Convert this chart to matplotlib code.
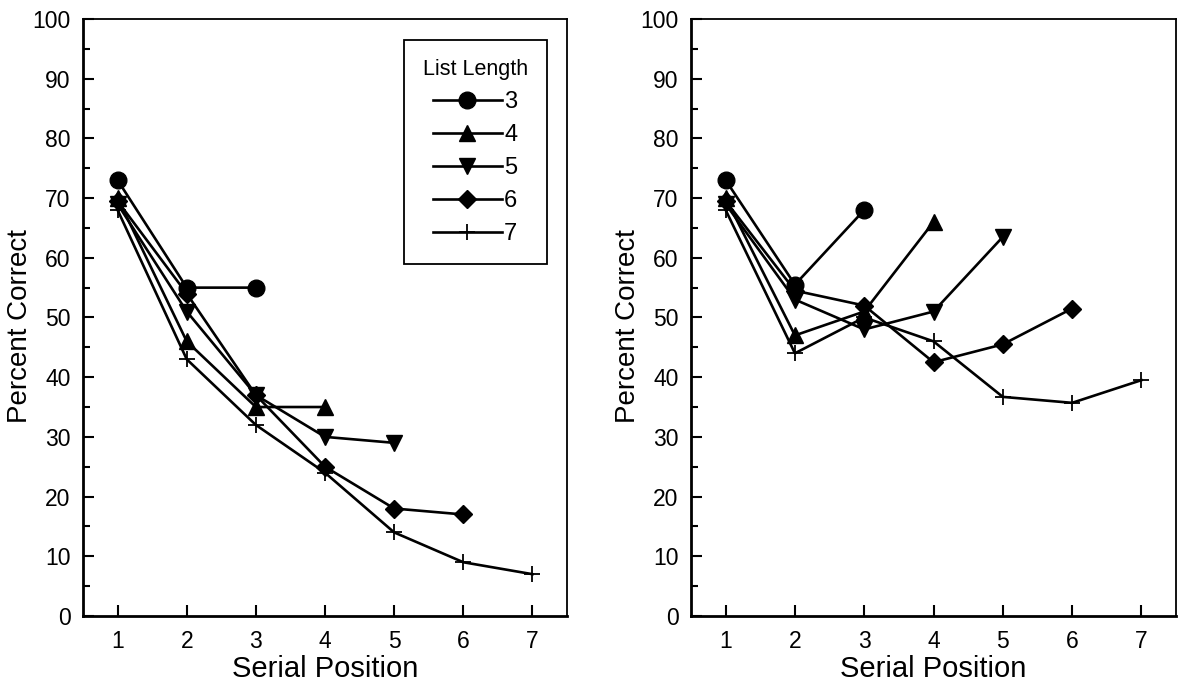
import matplotlib
matplotlib.use("Agg")
import matplotlib.pyplot as plt
from matplotlib.ticker import MultipleLocator

plt.rcParams['font.family'] = ['Liberation Sans', 'DejaVu Sans']

# Serial position curves by list length
list_lengths = ["3", "4", "5", "6", "7"]

# Left panel
left_L3 = [73, 55, 55]
left_L4 = [70, 46, 35, 35]
left_L5 = [69, 51, 37, 30, 29]
left_L6 = [69.5, 54, 37, 25, 18, 17]
left_L7 = [68, 43, 32, 24, 14, 9, 7]

# Right panel
right_L3 = [73, 55.5, 68]
right_L4 = [70, 47, 51, 66]
right_L5 = [69, 53, 48, 51, 63.5]
right_L6 = [69.5, 54.5, 52, 42.5, 45.5, 51.5]
right_L7 = [68, 44, 50, 46, 36.7, 35.7, 39.5]

x_ticks = [1, 2, 3, 4, 5, 6, 7]
y_ticks = [0, 10, 20, 30, 40, 50, 60, 70, 80, 90, 100]

markers = ['o', '^', 'v', 'D', '+']
msizes = [12, 11.5, 11.5, 9.5, 12]

fig = plt.figure(figsize=(11.81, 6.88), dpi=100)
ax_l = fig.add_axes([0.0703, 0.1047, 0.4098, 0.8677])
ax_r = fig.add_axes([0.5851, 0.1047, 0.4107, 0.8677])


def draw_panel(ax, series):
    handles = []
    for vals, mk, ms in zip(series, markers, msizes):
        xs = list(range(1, len(vals) + 1))
        mew = 1.3 if mk == '+' else 1.0
        (h,) = ax.plot(xs, vals, color='black', lw=1.9, marker=mk,
                       markersize=ms, markeredgewidth=mew,
                       markerfacecolor='black', markeredgecolor='black',
                       clip_on=False, zorder=3)
        handles.append(h)
    ax.set_xlim(0.5, 7.5)
    ax.set_ylim(0, 100)
    ax.set_xticks(x_ticks)
    ax.set_yticks(y_ticks)
    ax.yaxis.set_minor_locator(MultipleLocator(5))
    ax.tick_params(axis='both', which='major', direction='in', length=8,
                   width=1.5, labelsize=16.5, top=False, right=False)
    ax.tick_params(axis='y', which='minor', direction='in', length=5,
                   width=1.5, right=False)
    ax.tick_params(axis='x', which='major', pad=10)
    ax.tick_params(axis='y', which='major', pad=9)
    for side, sp in ax.spines.items():
        sp.set_linewidth(2.0 if side in ('left', 'bottom') else 1.3)
        sp.set_color('black')
    ax.set_xlabel('Serial Position', fontsize=21)
    ax.xaxis.set_label_coords(0.5, -0.066)
    ax.set_ylabel('Percent Correct', fontsize=20)
    ax.yaxis.set_label_coords(-0.103, 0.485)
    return handles


h = draw_panel(ax_l, [left_L3, left_L4, left_L5, left_L6, left_L7])
draw_panel(ax_r, [right_L3, right_L4, right_L5, right_L6, right_L7])

leg = ax_l.legend(h, list_lengths, title='List Length', loc='upper right',
                  bbox_to_anchor=(0.958, 0.965), fontsize=17, title_fontsize=15.5,
                  handlelength=2.9, handletextpad=0.1, labelspacing=0.47,
                  frameon=True, fancybox=False, edgecolor='black',
                  borderpad=0.8, borderaxespad=0, markerscale=1.0,
                  alignment='center')
leg.get_frame().set_linewidth(1.3)
leg.get_frame().set_alpha(1)

fig.savefig('out.png', dpi=100, facecolor='white')
